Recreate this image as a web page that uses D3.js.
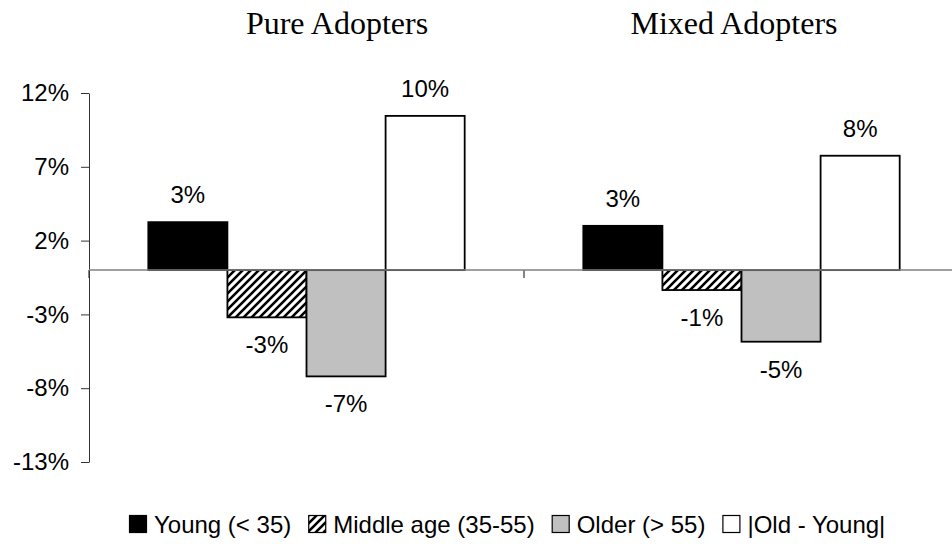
<!DOCTYPE html>
<html>
<head>
<meta charset="utf-8">
<script src="https://cdn.jsdelivr.net/npm/d3@7"></script>
<style>
  body { margin: 0; background: #fff; }
  text { fill: #000; }
</style>
</head>
<body>
<div id="chart"></div>
<script>
//~~~~~~~~~~~~~~~~~~DATA
let groups = ['Pure Adopters', 'Mixed Adopters'];
let series = ['Young (< 35)', 'Middle age (35-55)', 'Older (> 55)', '|Old - Young|'];
let pureValues = [3.25, -3.2, -7.2, 10.45];
let mixedValues = [3.0, -1.35, -4.85, 7.75];
let tickValues = [12, 7, 2, -3, -8, -13];

//~~~~~~~~~~~~~~~~~~VARIABLES
let width = 952;
let height = 546;
let left = 89;

let svg = d3.select('#chart')
  .append('svg')
  .attr('width', width)
  .attr('height', height);

//hatch pattern for the middle age bars
let defs = svg.append('defs');
defs.append('pattern')
  .attr('id', 'hatch')
  .attr('patternUnits', 'userSpaceOnUse')
  .attr('width', 8)
  .attr('height', 8)
  .call(p => p.append('rect').attr('width', 8).attr('height', 8).attr('fill', '#fff'))
  .append('path')
  .attr('d', 'M-2,2 L2,-2 M0,8 L8,0 M6,10 L10,6')
  .attr('stroke', '#000')
  .attr('stroke-width', 2.6);

let fills = ['#000', 'url(#hatch)', '#c0c0c0', '#fff'];

//scales
let y = d3.scaleLinear().domain([-13, 12]).range([462, 93]);
let x0 = d3.scaleBand().domain(groups).range([left, 959]);
let x1 = d3.scaleBand().domain(series).range([0, x0.bandwidth()]).paddingOuter(0.75);

//y axis
let yAxis = svg.append('g')
  .attr('transform', 'translate(' + left + ',0)')
  .call(d3.axisLeft(y)
    .tickValues(tickValues)
    .tickSize(8)
    .tickSizeOuter(0)
    .tickPadding(12)
    .tickFormat(d => d + '%'));
yAxis.select('.domain').attr('stroke', '#333');
yAxis.selectAll('.tick line').attr('stroke', '#333');
yAxis.selectAll('.tick text')
  .style('font-family', '"Liberation Sans", Arial, sans-serif')
  .style('font-size', '24px')
  .attr('fill', '#000');

//category ticks under the zero line
svg.selectAll('.cat-tick')
  .data(groups)
  .enter()
  .append('line')
  .attr('class', 'cat-tick')
  .attr('x1', d => x0(d))
  .attr('x2', d => x0(d))
  .attr('y1', y(0))
  .attr('y2', y(0) + 8)
  .attr('stroke', '#333')
  .attr('stroke-width', 1.2);

//bars
let table = groups.map((g, i) => ({
  group: g,
  values: (i === 0 ? pureValues : mixedValues).map((v, j) => ({ series: series[j], value: v, idx: j }))
}));

let groupG = svg.selectAll('.group')
  .data(table)
  .enter()
  .append('g')
  .attr('class', 'group')
  .attr('transform', d => 'translate(' + x0(d.group) + ',0)');

groupG.selectAll('rect')
  .data(d => d.values)
  .enter()
  .append('rect')
  .attr('x', d => x1(d.series))
  .attr('y', d => y(Math.max(0, d.value)))
  .attr('width', x1.bandwidth())
  .attr('height', d => Math.abs(y(d.value) - y(0)))
  .attr('fill', d => fills[d.idx])
  .attr('stroke', '#000')
  .attr('stroke-width', 1.8);

//value labels
groupG.selectAll('.label')
  .data(d => d.values)
  .enter()
  .append('text')
  .attr('class', 'label')
  .attr('x', d => x1(d.series) + x1.bandwidth() / 2)
  .attr('y', d => d.value >= 0 ? y(d.value) - 19 : y(d.value) + 36)
  .attr('text-anchor', 'middle')
  .style('font-family', '"Liberation Sans", Arial, sans-serif')
  .style('font-size', '24px')
  .text(d => Math.round(d.value) + '%');

//zero line
svg.append('line')
  .attr('x1', left)
  .attr('x2', width)
  .attr('y1', y(0))
  .attr('y2', y(0))
  .attr('stroke', '#808080')
  .attr('stroke-width', 1.5);

//titles
let titleX = [337, 734];
svg.selectAll('.title')
  .data(groups)
  .enter()
  .append('text')
  .attr('class', 'title')
  .attr('x', (d, i) => titleX[i])
  .attr('y', 34)
  .attr('text-anchor', 'middle')
  .style('font-family', '"Liberation Serif", "Times New Roman", serif')
  .style('font-size', '32px')
  .text(d => d);

//~~~~~~~~~~~~~~~~~~LEGEND
let legendRectSize = 18;
let legendSpacing = 7;
let legendX = 129;
let legendY = 533;

series.forEach(function(s, i) {
  let g = svg.append('g').attr('class', 'legend');
  g.append('rect')
    .attr('x', legendX + 0.5)
    .attr('y', legendY - legendRectSize + 0.5)
    .attr('width', legendRectSize - 1)
    .attr('height', legendRectSize - 1)
    .attr('fill', fills[i])
    .attr('stroke', '#000')
    .attr('stroke-width', 1.2);
  let t = g.append('text')
    .attr('x', legendX + legendRectSize + legendSpacing)
    .attr('y', legendY)
    .style('font-family', '"Liberation Sans", Arial, sans-serif')
    .style('font-size', '24px')
    .text(s);
  legendX += legendRectSize + legendSpacing + t.node().getComputedTextLength() + 17;
});
</script>
</body>
</html>
